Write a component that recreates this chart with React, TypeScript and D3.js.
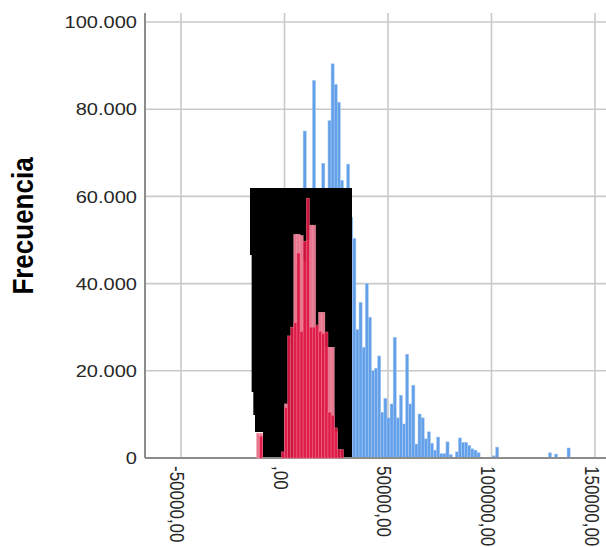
import React from "react";
import * as d3 from "d3";

// ---- data ----
const binWidth = 1500;
const blueBinIndex = [0,1,2,3,4,5,6,7,8,9,10,11,12,13,14,15,16,17,18,19,20,21,22,23,24,25,26,27,28,29,30,31,32,33,34,35,36,37,38,39,40,41,42,43,44,45,46,47,48,49,50,51,52,53,55,56,57,58,59,60,61,62,67,68,85,87,91];
const blueCounts = [8000,15000,22000,30000,38000,45000,75000,50000,55000,86600,58000,60000,67600,60000,77400,90400,85700,81600,63700,58000,67400,55200,50400,29500,35700,25400,40000,32300,20000,20600,23400,10500,13700,9200,12400,27700,9200,14400,7800,23800,12400,16700,3200,10100,9200,4400,6000,3400,1800,4800,1000,1000,3700,800,1400,4600,3600,3600,2900,2100,1800,1200,500,2500,1200,900,2300];

const redBinIndex = [-9,-8,-1,0,1,2,3,4,5,6,7,8,9,10,11,12,13,14,15,16,17,18];
const redCounts  = [0,5000,1400,11500,28000,30000,31000,47000,29000,49700,59600,30000,30000,30500,29000,28500,28900,10500,9800,6900,1900,1900];
const pinkCounts = [5700,5700,0,12400,0,0,51300,51300,51000,45000,50000,53400,53400,30000,33400,33400,25400,25400,25400,6000,0,0];

const xTicks = [-50000, 0, 50000, 100000, 150000];
const xTickLabels = ["-50000,00", ",00", "50000,00", "100000,00", "150000,00"];
const yTicks = [0, 20000, 40000, 60000, 80000, 100000];
const yTickLabels = ["0", "20.000", "40.000", "60.000", "80.000", "100.000"];
const yTitle = "Frecuencia";

// occluding black block (data coordinates)
const blockX = [-16670, 32600, 32600, -10400, -10400, -14250, -14250, -15060, -15060, -15870, -15870, -16670];
const blockY = [61900, 61900, 230, 230, 5960, 5960, 9860, 9860, 15140, 15140, 46560, 46560];

export default function App() {
  const W = 606, H = 547;
  const left = 145, right = 606, top = 13, bottom = 458;
  const x = d3.scaleLinear().domain([-67391, 155314]).range([left, right]);
  const y = d3.scaleLinear().domain([0, 102064]).range([bottom, top]);

  const blockPath = d3.line<number>()
    .x((_, i) => x(blockX[i]))
    .y((_, i) => y(blockY[i]))(blockX as any) + "Z";

  const font = "'Liberation Sans', Arial, sans-serif";

  return (
    <svg width={W} height={H} style={{ position: "absolute", left: 0, top: 0, background: "#fff" }}>
      {/* gridlines */}
      {yTicks.filter(t => t > 0).map(t => (
        <line key={"gy" + t} x1={left} x2={right} y1={y(t)} y2={y(t)} stroke="#c9c9c9" strokeWidth={1.6} />
      ))}
      {xTicks.map(t => (
        <line key={"gx" + t} x1={x(t)} x2={x(t)} y1={top} y2={bottom} stroke="#c9c9c9" strokeWidth={1.6} />
      ))}

      {/* blue histogram */}
      {blueBinIndex.map((k, i) => {
        const x0 = x(k * binWidth), x1 = x((k + 1) * binWidth);
        return (
          <rect key={"b" + i} x={x0} y={y(blueCounts[i])} width={x1 - x0} height={y(0) - y(blueCounts[i])}
            fill="#62a0ea" stroke="#a9c9f2" strokeWidth={0.5} />
        );
      })}

      {/* axes */}
      <line x1={left} x2={left} y1={top} y2={bottom} stroke="#8c8c8c" strokeWidth={2} />
      <line x1={left} x2={right} y1={bottom} y2={bottom} stroke="#8c8c8c" strokeWidth={2} />

      {/* occluding block */}
      <path d={blockPath} fill="#000" />

      {/* pink histogram (behind) */}
      {redBinIndex.map((k, i) => {
        const x0 = x(k * binWidth), x1 = x((k + 1) * binWidth);
        return pinkCounts[i] > 0 ? (
          <rect key={"p" + i} x={x0} y={y(pinkCounts[i])} width={x1 - x0} height={y(0) - y(pinkCounts[i])}
            fill="#e9768f" stroke="#f3a3b5" strokeWidth={0.5} />
        ) : null;
      })}
      {/* red histogram */}
      {redBinIndex.map((k, i) => {
        const x0 = x(k * binWidth), x1 = x((k + 1) * binWidth);
        return redCounts[i] > 0 ? (
          <rect key={"r" + i} x={x0} y={y(redCounts[i])} width={x1 - x0} height={y(0) - y(redCounts[i])}
            fill="#dc1742" fillOpacity={0.92} stroke="#ee6f8c" strokeWidth={0.5} />
        ) : null;
      })}

      {/* y tick labels */}
      {yTicks.map((t, i) => (
        <g key={"yl" + t} transform={`translate(137,${y(t)}) scale(1.18,1)`}>
          <text x={0} y={0} dy="0.36em" textAnchor="end" fontFamily={font} fontSize={17} fill="#262626">{yTickLabels[i]}</text>
        </g>
      ))}

      {/* x tick labels */}
      {xTicks.map((t, i) => (
        <g key={"xl" + t} transform={`translate(${x(t) - 10.5},466) scale(1.2,1) rotate(90)`}>
          <text x={0} y={0} textAnchor="start" fontFamily={font} fontSize={17} fill="#262626">{xTickLabels[i]}</text>
        </g>
      ))}

      {/* y title */}
      <g transform={`translate(33,226) scale(1.13,1) rotate(-90)`}>
        <text x={0} y={0} textAnchor="middle" fontFamily={font} fontSize={26} fontWeight="bold" fill="#000">{yTitle}</text>
      </g>
    </svg>
  );
}
